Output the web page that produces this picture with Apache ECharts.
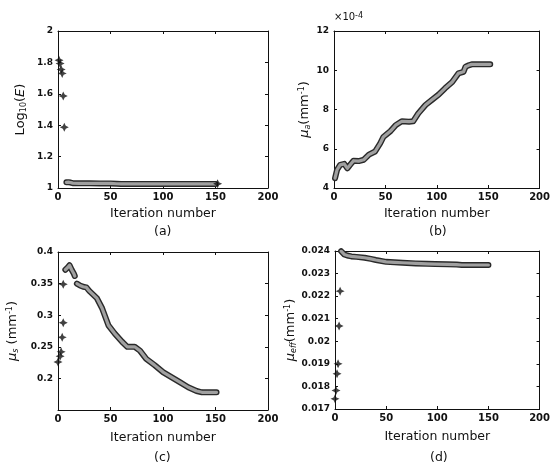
<!DOCTYPE html>
<html><head><meta charset="utf-8">
<script src="https://cdn.jsdelivr.net/npm/echarts@6/dist/echarts.min.js"></script>
<style>html,body{margin:0;padding:0;background:#fff}#c{width:553px;height:465px}</style>
</head><body><div id="c"></div>
<script>
const xTicks = [0, 50, 100, 150, 200];
// (a) Log10(E)
const aStarIter = [1, 2, 3, 4, 5, 6, 152];
const aStarVal = [1.814, 1.793, 1.755, 1.73, 1.586, 1.387, 1.027];
const aBandIter = [8, 10, 12, 14, 20, 30, 40, 50, 56, 60, 80, 100, 120, 140, 150];
const aBandVal = [1.036, 1.037, 1.035, 1.031, 1.030, 1.030, 1.029, 1.029, 1.027, 1.026, 1.026, 1.026, 1.026, 1.026, 1.026];
// (b) mu_a (x1e-4)
const bIter = [1, 3, 6, 10, 13, 16, 19, 24, 29, 34, 40, 45, 48, 55, 60, 66, 73, 77, 82, 89, 95, 102, 108, 115, 121, 126, 128, 131, 134, 142, 150, 152];
const bVal = [4.5, 4.93, 5.18, 5.23, 5.0, 5.2, 5.39, 5.37, 5.44, 5.7, 5.86, 6.28, 6.6, 6.9, 7.2, 7.4, 7.38, 7.4, 7.8, 8.23, 8.48, 8.77, 9.08, 9.4, 9.84, 9.92, 10.18, 10.25, 10.3, 10.3, 10.3, 10.3];
// (c) mu_s
const cStarIter = [0, 2, 3, 4, 5, 5];
const cStarVal = [0.226, 0.235, 0.242, 0.265, 0.288, 0.349];
const cBand1Iter = [7, 9, 11, 13, 15, 16];
const cBand1Val = [0.372, 0.375, 0.379, 0.372, 0.366, 0.362];
const cBand2Iter = [18, 21, 24, 27, 30, 37, 42, 48, 54, 61, 66, 70, 73, 78, 84, 92, 100, 108, 116, 124, 132, 137, 145, 151];
const cBand2Val = [0.350, 0.347, 0.345, 0.344, 0.338, 0.327, 0.311, 0.284, 0.271, 0.258, 0.250, 0.250, 0.250, 0.244, 0.231, 0.221, 0.210, 0.202, 0.194, 0.186, 0.180, 0.178, 0.178, 0.178];
// (d) mu_eff
const dStarIter = [0, 1, 2, 3, 4, 5];
const dStarVal = [0.01745, 0.01782, 0.01856, 0.0190, 0.02068, 0.02222];
const dBandIter = [6, 9, 12, 16, 21, 29, 35, 40, 50, 58, 66, 79, 90, 98, 110, 119, 124, 135, 150];
const dBandVal = [0.02399, 0.02385, 0.02380, 0.02376, 0.02374, 0.02370, 0.02365, 0.02360, 0.02352, 0.02350, 0.02348, 0.02345, 0.02343, 0.02342, 0.02341, 0.02340, 0.02338, 0.02338, 0.02338];

const zip = (xs, ys) => xs.map((x, i) => [x, ys[i]]);
const FONT = 'DejaVu Sans';
const starPath = 'path://M0,-10 L3.2,-3.2 L10,0 L3.2,3.2 L0,10 L-3.2,3.2 L-10,0 L-3.2,-3.2 Z';
const fmt = v => String(parseFloat(v.toFixed(4)));

const grids = [
  {left: 58, top: 31, width: 210, height: 157},
  {left: 334, top: 31, width: 209, height: 157},
  {left: 58, top: 252, width: 210, height: 158},
  {left: 335, top: 251, width: 209, height: 158}
];
const yRanges = [
  {min: 1, max: 2, interval: 0.2, hideMin: false},
  {min: 4, max: 12, interval: 2, hideMin: false},
  {min: 0.15, max: 0.4, interval: 0.05, hideMin: true},
  {min: 0.017, max: 0.024, interval: 0.001, hideMin: false}
];
const nameRich = {
  n: {fontSize: 13, fontFamily: FONT, color: '#111'},
  i: {fontSize: 13, fontFamily: FONT, fontStyle: 'italic', color: '#111'},
  sub: {fontSize: 8, fontFamily: FONT, color: '#111', verticalAlign: 'bottom', padding: [6, 0, 0, 0]},
  subi: {fontSize: 8, fontFamily: FONT, fontStyle: 'italic', color: '#111', verticalAlign: 'bottom', padding: [6, 0, 0, 0]},
  sup: {fontSize: 8, fontFamily: FONT, color: '#111', verticalAlign: 'top', padding: [0, 0, 6, 0]}
};
const yNames = [
  '{n|Log}{sub|10}{n|(}{i|E}{n|)}',
  '{i|μ}{subi|a}{n|(mm}{sup|-1}{n|)}',
  '{i|μ}{subi|s}{n| (mm}{sup|-1}{n|)}',
  '{i|μ}{subi|eff}{n|(mm}{sup|-1}{n|)}'
];
const yNameGaps = [30, 22, 38, 32];

const xAxes = [], yAxes = [];
grids.forEach((g, k) => {
  const common = {
    gridIndex: k, type: 'value', min: 0, max: 200, interval: 50,
    axisLine: {show: true, onZero: false, lineStyle: {color: '#111', width: 1}},
    axisTick: {show: true, inside: true, length: 3, lineStyle: {color: '#111'}},
    splitLine: {show: false}
  };
  xAxes.push(Object.assign({}, common, {
    position: 'bottom',
    axisLabel: {color: '#111', fontSize: 10, fontWeight: 'bold', fontFamily: FONT, margin: 4,
      formatter: v => xTicks.includes(v) ? String(v) : ''},
    name: 'Iteration number', nameLocation: 'middle', nameGap: k < 2 ? 19 : 21,
    nameTextStyle: {fontFamily: FONT, fontSize: 12.5, color: '#111'}
  }));
  xAxes.push(Object.assign({}, common, {position: 'top', axisLabel: {show: false}}));
  const r = yRanges[k];
  const ycommon = {
    gridIndex: k, type: 'value', min: r.min, max: r.max, interval: r.interval,
    axisLine: {show: true, onZero: false, lineStyle: {color: '#111', width: 1}},
    axisTick: {show: true, inside: true, length: 3, lineStyle: {color: '#111'}},
    splitLine: {show: false}
  };
  yAxes.push(Object.assign({}, ycommon, {
    position: 'left',
    axisLabel: {color: '#111', fontSize: 9, fontWeight: 'bold', fontFamily: FONT, margin: 5,
      formatter: v => (r.hideMin && Math.abs(v - r.min) < 1e-9) ? '' : fmt(v)},
    name: yNames[k], nameLocation: 'middle', nameGap: yNameGaps[k], nameRotate: 90,
    nameTextStyle: {rich: nameRich}
  }));
  yAxes.push(Object.assign({}, ycommon, {position: 'right', axisLabel: {show: false}}));
});

function band(k, data) {
  return [
    {type: 'line', xAxisIndex: 2 * k, yAxisIndex: 2 * k, data: data, showSymbol: false, symbol: 'none',
      lineStyle: {color: '#2a2a2a', width: 6, cap: 'round', join: 'round'}, silent: true, z: 2},
    {type: 'line', xAxisIndex: 2 * k, yAxisIndex: 2 * k, data: data, showSymbol: false, symbol: 'none',
      lineStyle: {color: '#a0a0a0', width: 3.2, cap: 'round', join: 'round'}, silent: true, z: 3}
  ];
}
function stars(k, data) {
  return {type: 'scatter', xAxisIndex: 2 * k, yAxisIndex: 2 * k, data: data, symbol: starPath, symbolSize: 9,
    itemStyle: {color: '#111'}, silent: true, z: 4};
}

const series = [].concat(
  band(0, zip(aBandIter, aBandVal)), [stars(0, zip(aStarIter, aStarVal))],
  band(1, zip(bIter, bVal)),
  band(2, zip(cBand1Iter, cBand1Val)), band(2, zip(cBand2Iter, cBand2Val)), [stars(2, zip(cStarIter, cStarVal))],
  band(3, zip(dBandIter, dBandVal)), [stars(3, zip(dStarIter, dStarVal))]
);

const letterStyle = {fontFamily: FONT, fontSize: 12.5, fill: '#111', align: 'center', verticalAlign: 'middle'};
const chart = echarts.init(document.getElementById('c'), null, {renderer: 'canvas'});
chart.setOption({
  animation: false,
  backgroundColor: '#fff',
  grid: grids,
  xAxis: xAxes,
  yAxis: yAxes,
  series: series,
  graphic: [
    {type: 'text', left: 163 - 9, top: 225, style: Object.assign({}, letterStyle, {text: '(a)'})},
    {type: 'text', left: 438 - 9, top: 225, style: Object.assign({}, letterStyle, {text: '(b)'})},
    {type: 'text', left: 163 - 9, top: 451, style: Object.assign({}, letterStyle, {text: '(c)'})},
    {type: 'text', left: 439 - 9, top: 451, style: Object.assign({}, letterStyle, {text: '(d)'})},
    {type: 'text', left: 334, top: 12, style: {text: '{n|×10}{s|-4}', rich: {
      n: {fontFamily: FONT, fontSize: 10, fill: '#111', verticalAlign: 'bottom'},
      s: {fontFamily: FONT, fontSize: 8, fill: '#111', verticalAlign: 'top'}}}}
  ]
});
</script></body></html>
